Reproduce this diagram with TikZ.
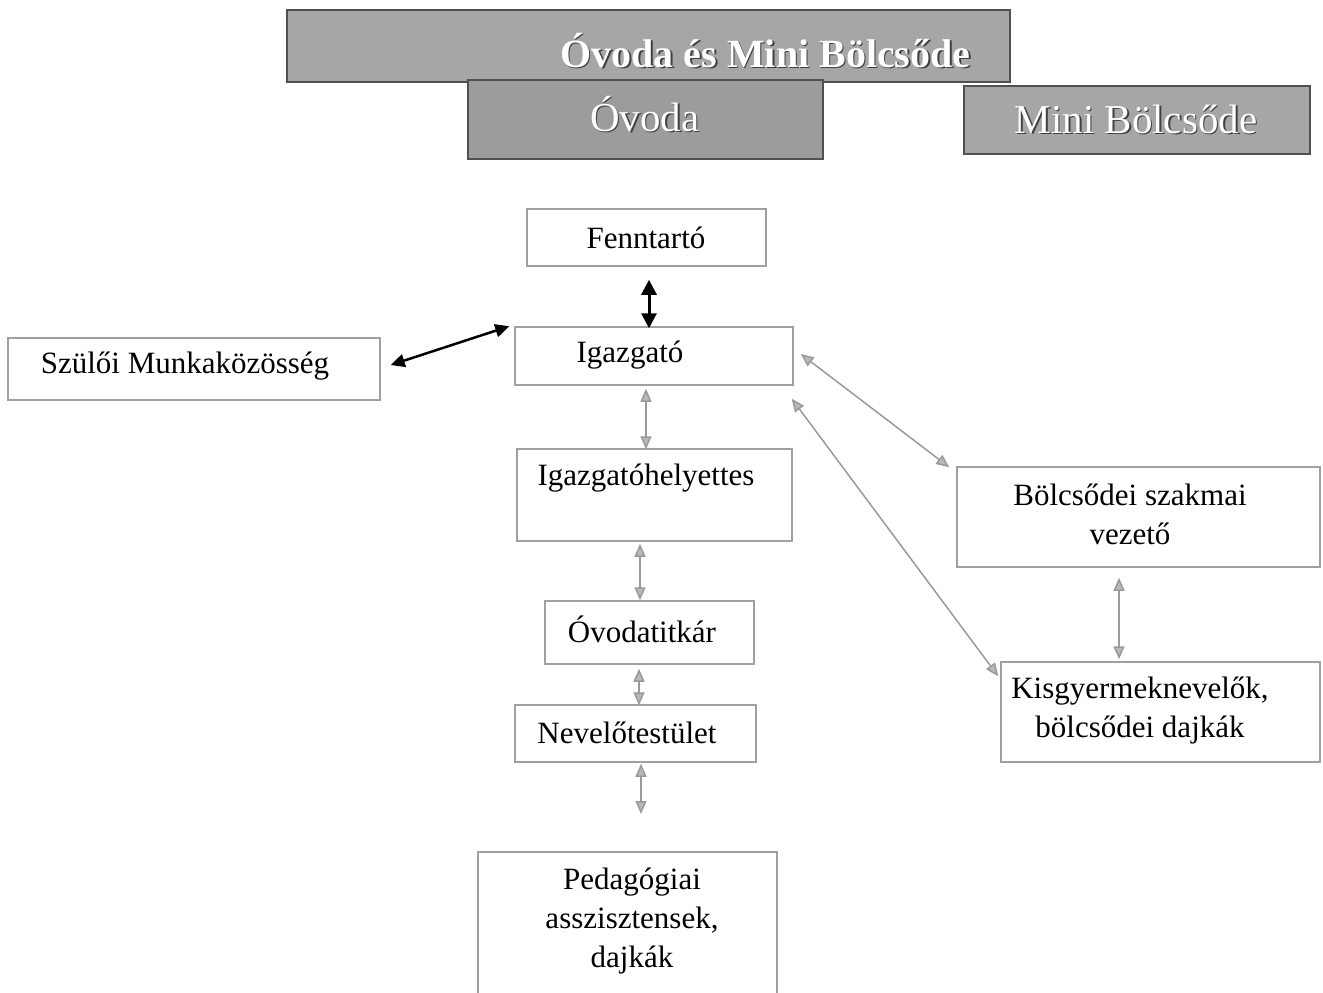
\documentclass[tikz,border=0pt]{standalone}
\usepackage{fontspec}
\setmainfont{Liberation Serif}
\usetikzlibrary{arrows.meta,calc}
\definecolor{hdrfill}{HTML}{A6A6A6}
\definecolor{hdrfilltwo}{HTML}{9C9C9C}
\definecolor{hdrline}{HTML}{505050}
\definecolor{boxline}{HTML}{A0A0A0}
\definecolor{grayarrow}{HTML}{9A9A9A}
\begin{document}
\begin{tikzpicture}[x=1pt,y=-1pt,
  hdr/.style={draw=hdrline, line width=2pt, fill=hdrfill, inner sep=0pt},
  hdrtext/.style={text=white, inner sep=0pt},
  hdrshadow/.style={text=black!75, inner sep=0pt},
  orgbox/.style={draw=boxline, line width=1.5pt, inner sep=0pt},
  txt/.style={font=\fontsize{31}{39}\selectfont, align=center, inner sep=0pt},
  blkarrow/.style={draw=black, line width=3pt, {Triangle[width=15pt,length=15pt]}-{Triangle[width=15pt,length=15pt]}},
  blkarrowtwo/.style={draw=black, line width=2.5pt, {Triangle[width=13pt,length=14pt]}-{Triangle[width=13pt,length=14pt]}},
  grayarr/.style={draw=grayarrow, line width=1.5pt, {Triangle[width=11pt,length=13pt,fill=grayarrow!70]}-{Triangle[width=11pt,length=13pt,fill=grayarrow!70]}}
]
\useasboundingbox (0,0) rectangle (1323,993);
\clip (0,0) rectangle (1323,993);
\fill[white] (0,0) rectangle (1323,993);

% header boxes
\node[hdr, minimum width=723pt, minimum height=72pt] (h1) at (648.5,46) {};
\node[hdr, fill=hdrfilltwo, minimum width=355pt, minimum height=79pt] (h2) at (645.5,119.5) {};
\node[hdr, minimum width=346pt, minimum height=68pt] (h3) at (1137,120) {};
\node[hdrshadow, font=\bfseries\fontsize{40}{48}\selectfont] at (767,52) {Óvoda és Mini Bölcsőde};
\node[hdrtext, font=\bfseries\fontsize{40}{48}\selectfont] (h1t) at (765.5,50.5) {Óvoda és Mini Bölcsőde};
\node[hdrshadow, font=\fontsize{41}{48}\selectfont] at (646.5,115.5) {Óvoda};
\node[hdrtext, font=\fontsize{41}{48}\selectfont] (h2t) at (645,114) {Óvoda};
\node[hdrshadow, font=\fontsize{41}{48}\selectfont] at (1137.5,120.5) {Mini Bölcsőde};
\node[hdrtext, font=\fontsize{41}{48}\selectfont] (h3t) at (1136,119) {Mini Bölcsőde};

% org boxes
\node[orgbox, minimum width=239pt, minimum height=57pt] (fenn) at (646.5,237.5) {};
\node[txt] (fennt) at (646,238) {Fenntartó};

\node[orgbox, minimum width=278pt, minimum height=58pt] (igaz) at (654,356) {};
\node[txt] (igazt) at (630,355) {Igazgató};

\node[orgbox, minimum width=372pt, minimum height=62pt] (szulo) at (194,369) {};
\node[txt] (szulot) at (185,366) {Szülői Munkaközösség};

\node[orgbox, minimum width=275pt, minimum height=92pt] (ihely) at (654.5,495) {};
\node[txt] (ihelyt) at (646,478) {Igazgatóhelyettes};

\node[orgbox, minimum width=209pt, minimum height=63pt] (titkar) at (649.5,632.5) {};
\node[txt] (titkart) at (642,629) {Óvodatitkár};

\node[orgbox, minimum width=241pt, minimum height=57pt] (nevelo) at (635.5,733.5) {};
\node[txt] (nevelot) at (627,733) {Nevelőtestület};

\node[orgbox, minimum width=299pt, minimum height=150pt] (peda) at (627.5,927) {};
\node[txt] (pedat) at (632,921) {Pedagógiai\\asszisztensek,\\dajkák};

\node[orgbox, minimum width=363pt, minimum height=100pt] (bolcs) at (1138.5,517) {};
\node[txt] (bolcst) at (1130,514) {Bölcsődei szakmai\\vezető};

\node[orgbox, minimum width=319pt, minimum height=100pt] (kisgy) at (1160.5,712) {};
\node[txt] (kisgyt) at (1140,711) {Kisgyermeknevelők,\\bölcsődei dajkák};

\coordinate (freeend) at (641,814);

% connectors
\draw[blkarrow] ([xshift=2.5pt,yshift=-13pt]fenn.south) -- ([xshift=-5pt,yshift=-2pt]igaz.north);
\draw[blkarrowtwo] ([xshift=10pt,yshift=4pt]szulo.east) -- ([xshift=-5pt]igaz.north west);
\draw[grayarr] ([xshift=-8pt,yshift=-3pt]igaz.south) -- ([xshift=-8.5pt,yshift=-1pt]ihely.north);
\draw[grayarr] ([xshift=-14.5pt,yshift=-2pt]ihely.south) -- ([xshift=-9.5pt]titkar.north);
\draw[grayarr] ([xshift=-10.5pt,yshift=-4pt]titkar.south) -- ([xshift=3.5pt,yshift=-1pt]nevelo.north);
\draw[grayarr] ([xshift=5.5pt,yshift=-1pt]nevelo.south) -- (freeend);
\draw[grayarr] ([xshift=7pt,yshift=2pt]igaz.east) -- ([xshift=-7pt,yshift=-1pt]bolcs.north west);
\draw[grayarr] ([xshift=-2pt,yshift=-13pt]igaz.south east) -- ([xshift=-2pt,yshift=-15pt]kisgy.north west);
\draw[grayarr] ([xshift=-19.5pt,yshift=-10pt]bolcs.south) -- ([xshift=-41.5pt,yshift=2pt]kisgy.north);
\end{tikzpicture}
\end{document}
